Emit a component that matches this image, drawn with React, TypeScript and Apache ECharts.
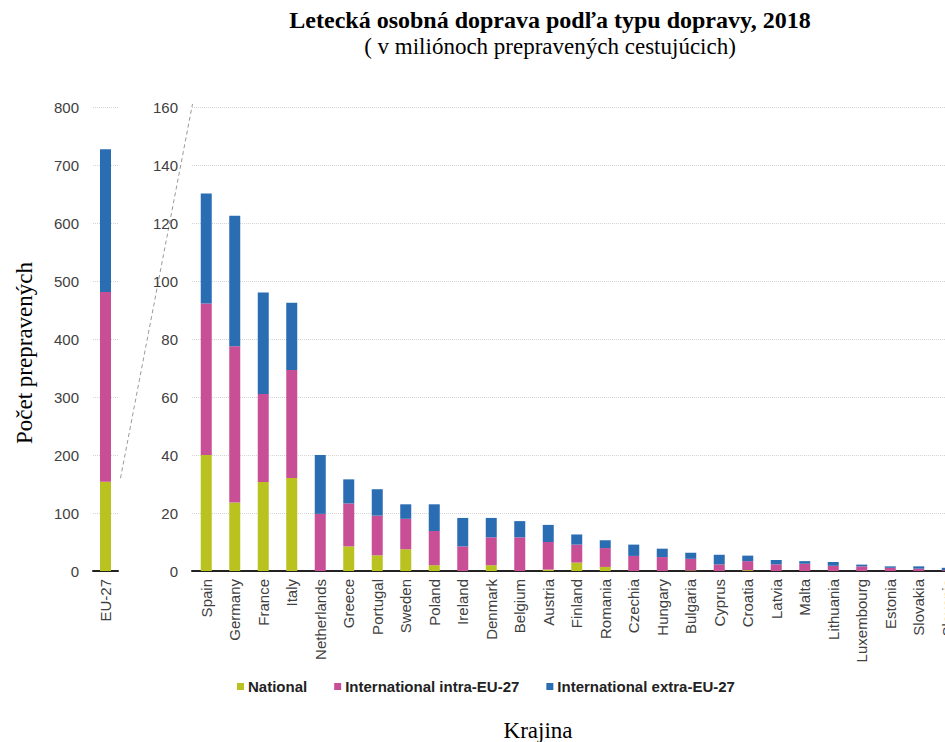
import React, { useEffect, useRef } from "react";
import * as echarts from "echarts";

const euCategory = ["EU-27"];
const euNational = [154];
const euIntra = [327];
const euExtra = [246];

const countries = [
  "Spain", "Germany", "France", "Italy", "Netherlands", "Greece", "Portugal", "Sweden", "Poland",
  "Ireland", "Denmark", "Belgium", "Austria", "Finland", "Romania", "Czechia", "Hungary", "Bulgaria",
  "Cyprus", "Croatia", "Latvia", "Malta", "Lithuania", "Luxembourg", "Estonia", "Slovakia", "Slovenia",
];
const national = [40, 23.6, 30.7, 32.1, 0, 8.5, 5.4, 7.5, 2.0, 0, 2.0, 0, 0.5, 2.9, 1.4, 0, 0, 0.2, 0, 0.3, 0, 0, 0, 0, 0, 0, 0];
const intra = [52.2, 53.9, 30.3, 37.2, 19.7, 14.8, 13.7, 10.5, 11.8, 8.5, 9.6, 11.6, 9.5, 6.2, 6.5, 5.2, 4.8, 4.0, 2.3, 3.1, 2.3, 2.5, 1.8, 1.6, 1.1, 0.8, 0.3];
const extra = [38.0, 45.0, 35.0, 23.2, 20.3, 8.3, 9.1, 5.0, 9.2, 9.8, 6.7, 5.6, 5.9, 3.5, 2.7, 3.9, 2.9, 2.1, 3.3, 1.9, 1.5, 0.9, 1.3, 0.6, 0.5, 0.8, 0.8];

const seriesNames = ["National", "International intra-EU-27", "International extra-EU-27"];
const colors = ["#b9c21f", "#c84f95", "#2a6db3"];
const leftTicks = { max: 800, interval: 100 };
const rightTicks = { max: 160, interval: 20 };

const SANS = "'Liberation Sans', Arial, sans-serif";
const SERIF = "'Liberation Serif', 'Times New Roman', serif";

export default function App() {
  const ref = useRef<HTMLDivElement>(null);
  useEffect(() => {
    if (!ref.current) return;
    const chart = echarts.init(ref.current, undefined, { renderer: "svg" });
    const gridTop = 107;
    const gridHeight = 464;
    const axisLabel = { color: "#404040", fontSize: 15, fontFamily: SANS, margin: 14 };
    const splitLine = { show: true, lineStyle: { color: "#d4d4d4", type: "dotted" as const, width: 1 } };
    const axisLine = { show: true, lineStyle: { color: "#222", width: 2 } };
    const mk = (name: string, data: number[], color: string, idx: number) => ({
      name,
      type: "bar" as const,
      stack: "s" + idx,
      xAxisIndex: idx,
      yAxisIndex: idx,
      barWidth: 11,
      data,
      itemStyle: { color },
    });
    const option: any = {
      animation: false,
      title: [
        {
          text: "Letecká osobná doprava podľa typu dopravy, 2018",
          left: 545,
          top: 3,
          textAlign: "center",
          textStyle: { fontFamily: SERIF, fontSize: 24, fontWeight: "bold", color: "#000" },
        },
        {
          text: "( v miliónoch prepravených cestujúcich)",
          left: 545,
          top: 30,
          textAlign: "center",
          textStyle: { fontFamily: SERIF, fontSize: 23, fontWeight: "normal", color: "#000" },
        },
      ],
      legend: {
        left: 232,
        top: 674,
        icon: "rect",
        itemWidth: 7,
        itemHeight: 7,
        itemGap: 27,
        data: seriesNames,
        textStyle: { fontFamily: SANS, fontSize: 15, fontWeight: "bold", color: "#222", padding: [0, 0, 0, -1] },
      },
      grid: [
        { left: 93, width: 25, top: gridTop, height: gridHeight },
        { left: 192, width: 769.5, top: gridTop, height: gridHeight },
      ],
      xAxis: [
        {
          type: "category",
          gridIndex: 0,
          data: euCategory,
          axisLine,
          axisTick: { show: false },
          axisLabel: { ...axisLabel, rotate: 90, margin: 8 },
        },
        {
          type: "category",
          gridIndex: 1,
          data: countries,
          axisLine,
          axisTick: { show: false },
          axisLabel: { ...axisLabel, rotate: 90, margin: 8, interval: 0 },
        },
      ],
      yAxis: [
        {
          type: "value",
          gridIndex: 0,
          min: 0,
          max: leftTicks.max,
          interval: leftTicks.interval,
          axisLine: { show: false },
          axisTick: { show: false },
          axisLabel,
          splitLine,
        },
        {
          type: "value",
          gridIndex: 1,
          min: 0,
          max: rightTicks.max,
          interval: rightTicks.interval,
          axisLine: { show: false },
          axisTick: { show: false },
          axisLabel,
          splitLine,
        },
      ],
      series: [
        mk(seriesNames[0], euNational, colors[0], 0),
        mk(seriesNames[1], euIntra, colors[1], 0),
        mk(seriesNames[2], euExtra, colors[2], 0),
        mk(seriesNames[0], national, colors[0], 1),
        mk(seriesNames[1], intra, colors[1], 1),
        mk(seriesNames[2], extra, colors[2], 1),
      ],
    };
    chart.setOption(option);

    const a = chart.convertToPixel({ xAxisIndex: 0, yAxisIndex: 0 }, [0, rightTicks.max]) as number[];
    const by = chart.convertToPixel({ yAxisIndex: 1 }, rightTicks.max) as number;
    chart.setOption({
      graphic: [
        {
          type: "line",
          shape: { x1: a[0] + 15, y1: a[1], x2: 192.5, y2: by - 3 },
          style: { stroke: "#9a9a9a", lineWidth: 1, lineDash: [4, 3] },
          silent: true,
        },
        {
          type: "text",
          x: 24,
          y: 353,
          rotation: Math.PI / 2,
          style: {
            text: "Počet prepravených",
            fontFamily: SERIF,
            fontSize: 23,
            fill: "#000",
            align: "center",
            verticalAlign: "middle",
          },
        },
        {
          type: "text",
          x: 538,
          y: 730,
          style: {
            text: "Krajina",
            fontFamily: SERIF,
            fontSize: 23,
            fill: "#000",
            align: "center",
            verticalAlign: "middle",
          },
        },
      ],
    });
    return () => chart.dispose();
  }, []);
  return (
    <div style={{ position: "absolute", left: 0, top: 0, width: 945, height: 742, overflow: "hidden", background: "#fff" }}>
      <div ref={ref} style={{ width: 980, height: 742 }} />
    </div>
  );
}
